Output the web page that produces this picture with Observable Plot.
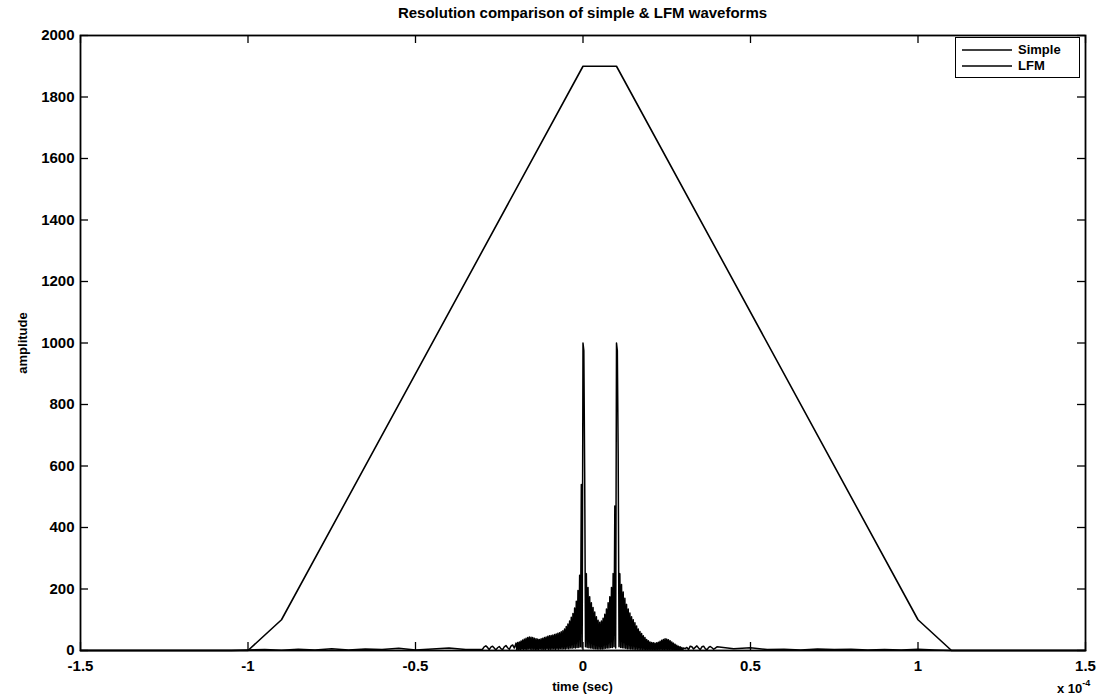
<!DOCTYPE html>
<html><head><meta charset="utf-8">
<script src="https://cdn.jsdelivr.net/npm/d3@7"></script>
<script src="https://cdn.jsdelivr.net/npm/@observablehq/plot@0.6"></script>
<style>
body{margin:0;background:#fff;font-family:"Liberation Sans",Arial,Helvetica,sans-serif;}
#wrap{position:relative;width:1101px;height:698px;overflow:hidden;}
#title{position:absolute;left:0;top:4px;width:1101px;padding-left:64px;box-sizing:border-box;text-align:center;font-weight:bold;font-size:15px;color:#000;}
#legend{position:absolute;left:955px;top:37px;width:125px;height:41px;border:1.5px solid #000;background:#fff;box-sizing:border-box;font-weight:bold;font-size:13px;}
#legend .row{position:absolute;left:6px;height:15px;display:flex;align-items:center;}
#legend .row span{margin-left:6px;}
#xlabel{position:absolute;left:0;top:679px;width:1101px;padding-left:64px;box-sizing:border-box;text-align:center;font-weight:bold;font-size:13px;}
#ylabel{position:absolute;left:22px;top:343px;transform:translate(-50%,-50%) rotate(-90deg);font-weight:bold;font-size:13px;white-space:nowrap;}
#expo{position:absolute;left:1057px;top:680px;font-weight:bold;font-size:13px;}
#expo sup{font-size:9px;position:relative;top:-2px;}
</style></head><body><div id="wrap"></div>
<script>
// Axis ticks (time in units of 1e-4 s)
const xTicks = [-1.5, -1, -0.5, 0, 0.5, 1, 1.5];
const yTicks = [0, 200, 400, 600, 800, 1000, 1200, 1400, 1600, 1800, 2000];

// Simple pulse matched-filter output (trapezoid)
const simpleTime = [-1.5, -1.0, -0.9, 0.0, 0.1, 1.0, 1.1, 1.5];
const simpleAmp  = [0, 0, 100, 1900, 1900, 100, 0, 0];

// LFM matched-filter output, read on several sampling grids (time = start + i*step)
const lfmFarLeftStart = -1.5, lfmFarLeftStep = 0.05;
const lfmFarLeftAmp = [0,0,0,0,0,0,0,0,0,0, 2,3,1,4,2,6,2,5,3,7,2,5,8,3];

const lfmNearLeftStart = -0.30, lfmNearLeftStep = 0.005;
const lfmNearLeftAmp = [4,12,15,10,3,11,14,8,2,9,13,6,3,12,16,9,4,14,18,8];

// dense oscillating core: samples on the 0.005 grid
const lfmCrestStart = -0.20, lfmCrestStep = 0.005;
const lfmCrestAmp = [
  24,26,28,31,34,37,40,42,44,43, 42,40,38,37,36,38,40,42,44,46,
  48,49,50,52,54,56,58,61,64,70, 78,86,96,108,120,138,160,195,245,540,
  1000,
  580,250,205,175,155,140,125,110,98,92, 96,105,118,135,155,175,205,250,470,
  1000,
  640,250,215,190,170,150,135,122,110,100, 90,80,70,62,55,48,42,36,32,28,
  26,25,24,25,27,30,33,36,38,37, 35,32,28,24,20,17,14,12,10,8
];
// samples half-way between (mostly troughs; just after each main peak still near the top)
const lfmTroughStart = -0.1975, lfmTroughStep = 0.005;
const lfmTroughAmp = [
  2,3,2,4,3,4,2,5,4,3, 4,2,3,3,5,3,4,3,5,3,
  4,4,5,3,5,4,6,5,6,5, 7,6,8,7,9,8,10,10,12,8,
  975,12,10,9,8,7,6,6,5,5, 5,5,6,7,8,8,10,10,12,8,
  975,12,10,9,8,7,6,6,5,5, 4,4,4,3,3,3,2,2,2,2,
  2,2,2,2,2,3,3,2,2,2, 2,2,2,1,1,1,1,1,1,1
];

const lfmNearRightStart = 0.305, lfmNearRightStep = 0.005;
const lfmNearRightAmp = [6,10,3,14,12,5,10,15,8,3,12,14,6,2,10,13,9,4,8,12];

const lfmFarRightStart = 0.45, lfmFarRightStep = 0.05;
const lfmFarRightAmp = [6,9,3,4,2,5,3,4,2,3,2,4,2,0, 0,0,0,0,0,0,0,0];

const seriesNames = ["Simple", "LFM"];

// Build tables
const simpleData = simpleTime.map((t, i) => ({t, a: simpleAmp[i]}));
const lfmData = [];
function addSeg(start, step, amps) {
  amps.forEach((a, i) => lfmData.push({t: +(start + i * step).toFixed(5), a}));
}
addSeg(lfmFarLeftStart, lfmFarLeftStep, lfmFarLeftAmp);
addSeg(lfmNearLeftStart, lfmNearLeftStep, lfmNearLeftAmp);
addSeg(lfmCrestStart, lfmCrestStep, lfmCrestAmp);
addSeg(lfmTroughStart, lfmTroughStep, lfmTroughAmp);
addSeg(lfmNearRightStart, lfmNearRightStep, lfmNearRightAmp);
addSeg(lfmFarRightStart, lfmFarRightStep, lfmFarRightAmp);
lfmData.sort((p, q) => p.t - q.t);

const chart = Plot.plot({
  width: 1101, height: 698,
  marginLeft: 80, marginRight: 16, marginTop: 35, marginBottom: 48,
  style: {fontFamily: "'Liberation Sans', Arial, sans-serif", fontSize: "15px", fontWeight: "bold", color: "#000", background: "#fff", overflow: "visible"},
  x: {domain: [-1.5, 1.5]},
  y: {domain: [0, 2000]},
  marks: [
    Plot.line(lfmData, {x: "t", y: "a", stroke: "#000", strokeWidth: 1.5}),
    Plot.line(simpleData, {x: "t", y: "a", stroke: "#000", strokeWidth: 1.6}),
    Plot.tickX(xTicks, {x: d => d, stroke: "#000", strokeWidth: 1.3, insetTop: 607}),
    Plot.tickX(xTicks, {x: d => d, stroke: "#000", strokeWidth: 1.3, insetBottom: 607}),
    Plot.tickY(yTicks, {y: d => d, stroke: "#000", strokeWidth: 1.3, insetRight: 997}),
    Plot.tickY(yTicks, {y: d => d, stroke: "#000", strokeWidth: 1.3, insetLeft: 997}),
    Plot.axisX(xTicks, {anchor: "bottom", tickSize: 0, tickPadding: 10, tickFormat: d => String(d), label: null}),
    Plot.axisY(yTicks, {anchor: "left", tickSize: 0, tickPadding: 6, tickFormat: d => String(d), label: null}),
    Plot.frame({stroke: "#000", strokeWidth: 1.8})
  ]
});

const wrap = document.getElementById("wrap");
wrap.appendChild(chart);

function addDiv(id, html) {
  const d = document.createElement("div");
  d.id = id;
  d.innerHTML = html;
  wrap.appendChild(d);
  return d;
}
addDiv("title", "Resolution comparison of simple &amp; LFM waveforms");
addDiv("xlabel", "time (sec)");
addDiv("ylabel", "amplitude");
addDiv("expo", "x 10<sup>-4</sup>");

const legend = addDiv("legend", "");
seriesNames.forEach((name, i) => {
  const row = document.createElement("div");
  row.className = "row";
  row.style.top = (4 + i * 16) + "px";
  row.innerHTML = `<svg width="50" height="4"><line x1="0" x2="50" y1="2" y2="2" stroke="#000" stroke-width="1.4"/></svg><span>${name}</span>`;
  legend.appendChild(row);
});
</script>
</body></html>
